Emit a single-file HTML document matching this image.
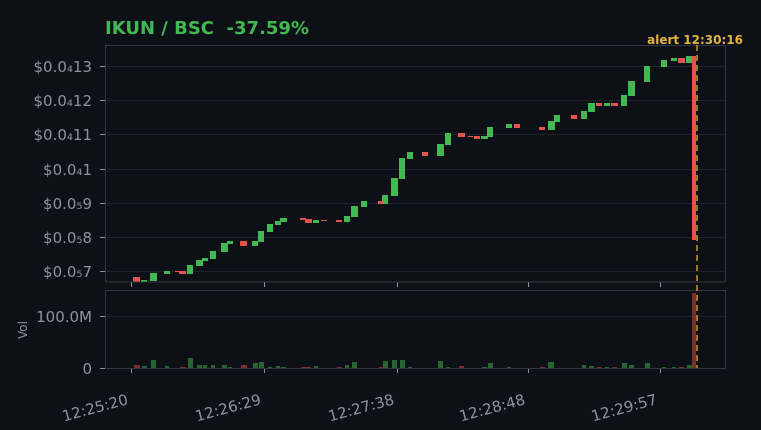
<!DOCTYPE html>
<html><head><meta charset="utf-8"><style>
html,body{margin:0;padding:0;background:#0d1117;}
svg{display:block;font-family:"DejaVu Sans","Liberation Sans",sans-serif;}
</style></head><body>
<svg width="761" height="430" viewBox="0 0 761 430" xmlns="http://www.w3.org/2000/svg">
<rect width="761" height="430" fill="#0d1117"/>
<text x="105" y="34" fill="#3fb950" font-size="18" font-weight="bold" style="white-space:pre">IKUN / BSC  -37.59%</text>
<text x="743" y="44" fill="#e3b341" font-size="12" font-weight="bold" text-anchor="end">alert 12:30:16</text>
<g stroke="#1e232b" stroke-width="1">
<line x1="105" x2="725" y1="66.5" y2="66.5"/><line x1="105" x2="725" y1="100.5" y2="100.5"/>
<line x1="105" x2="725" y1="134.5" y2="134.5"/><line x1="105" x2="725" y1="169.5" y2="169.5"/>
<line x1="105" x2="725" y1="203.5" y2="203.5"/><line x1="105" x2="725" y1="237.5" y2="237.5"/>
<line x1="105" x2="725" y1="271.5" y2="271.5"/><line x1="105" x2="725" y1="316.5" y2="316.5"/>
</g>
<g fill="#8b949e" font-size="15" text-anchor="end">
<text x="92" y="72">$0.0₄13</text><text x="92" y="106">$0.0₄12</text><text x="92" y="140">$0.0₄11</text>
<text x="92" y="175">$0.0₄1</text><text x="92" y="209">$0.0₅9</text><text x="92" y="243">$0.0₅8</text>
<text x="92" y="277">$0.0₅7</text>
<text x="92" y="322">100.0M</text><text x="92" y="374">0</text>
</g>
<text x="27" y="330" fill="#8b949e" font-size="12" transform="rotate(-90 27 330)" text-anchor="middle">Vol</text>
<g stroke="#8b949e" stroke-width="1">
<line x1="100" x2="105" y1="66.5" y2="66.5"/><line x1="100" x2="105" y1="100.5" y2="100.5"/><line x1="100" x2="105" y1="134.5" y2="134.5"/><line x1="100" x2="105" y1="169.5" y2="169.5"/><line x1="100" x2="105" y1="203.5" y2="203.5"/><line x1="100" x2="105" y1="237.5" y2="237.5"/><line x1="100" x2="105" y1="271.5" y2="271.5"/><line x1="100" x2="105" y1="316.5" y2="316.5"/><line x1="100" x2="105" y1="368.5" y2="368.5"/>
<line x1="131.5" x2="131.5" y1="282" y2="287"/><line x1="264.5" x2="264.5" y1="282" y2="287"/><line x1="397.5" x2="397.5" y1="282" y2="287"/><line x1="528.5" x2="528.5" y1="282" y2="287"/><line x1="660.5" x2="660.5" y1="282" y2="287"/>
<line x1="131.5" x2="131.5" y1="368" y2="373"/><line x1="264.5" x2="264.5" y1="368" y2="373"/><line x1="397.5" x2="397.5" y1="368" y2="373"/><line x1="528.5" x2="528.5" y1="368" y2="373"/><line x1="660.5" x2="660.5" y1="368" y2="373"/>
</g>
<g fill="#8b949e" font-size="15" text-anchor="end">
<text transform="translate(129 404) rotate(-15)">12:25:20</text>
<text transform="translate(262 404) rotate(-15)">12:26:29</text>
<text transform="translate(395 404) rotate(-15)">12:27:38</text>
<text transform="translate(526 404) rotate(-15)">12:28:48</text>
<text transform="translate(658 404) rotate(-15)">12:29:57</text>
</g>
<g fill="#3fb950">
<rect x="141" y="280" width="6" height="2"/><rect x="150" y="273" width="7" height="8"/><rect x="164" y="271" width="6" height="3"/><rect x="187" y="265" width="6" height="9"/><rect x="196" y="260" width="7" height="6"/><rect x="202" y="258" width="6" height="3"/><rect x="210" y="251" width="6" height="8"/><rect x="221" y="243" width="7" height="9"/><rect x="227" y="241" width="6" height="3"/><rect x="252" y="241" width="6" height="5"/><rect x="258" y="231" width="6" height="11"/><rect x="267" y="224" width="6" height="8"/><rect x="275" y="221" width="6" height="4"/><rect x="280" y="218" width="7" height="4"/><rect x="313" y="220" width="6" height="3"/><rect x="344" y="216" width="6" height="6"/><rect x="351" y="206" width="7" height="11"/><rect x="361" y="201" width="6" height="6"/><rect x="382" y="195" width="6" height="9"/><rect x="391" y="178" width="7" height="18"/><rect x="399" y="158" width="6" height="21"/><rect x="407" y="152" width="6" height="7"/><rect x="437" y="144" width="7" height="12"/><rect x="445" y="133" width="6" height="12"/><rect x="481" y="136" width="7" height="3"/><rect x="487" y="127" width="6" height="10"/><rect x="506" y="124" width="6" height="4"/><rect x="548" y="121" width="7" height="9"/><rect x="554" y="115" width="6" height="7"/><rect x="581" y="111" width="6" height="8"/><rect x="588" y="103" width="7" height="9"/><rect x="604" y="103" width="6" height="3"/><rect x="621" y="95" width="6" height="11"/><rect x="628" y="81" width="7" height="15"/><rect x="644" y="66" width="6" height="16"/><rect x="661" y="60" width="6" height="7"/><rect x="671" y="58" width="6" height="3"/><rect x="686" y="56" width="6" height="7"/>
</g>
<g fill="#e5534b">
<rect x="133" y="277" width="7" height="5"/><rect x="175" y="271" width="4" height="1"/><rect x="179" y="271" width="7" height="3"/><rect x="240" y="241" width="7" height="5"/><rect x="300" y="218" width="6" height="2"/><rect x="305" y="219" width="7" height="4"/><rect x="321" y="220" width="6" height="1"/><rect x="336" y="220" width="6" height="2"/><rect x="378" y="201" width="5" height="3"/><rect x="422" y="152" width="6" height="4"/><rect x="458" y="133" width="7" height="4"/><rect x="468" y="136" width="5" height="1"/><rect x="474" y="136" width="6" height="3"/><rect x="514" y="124" width="6" height="4"/><rect x="539" y="127" width="6" height="3"/><rect x="571" y="115" width="6" height="4"/><rect x="596" y="103" width="6" height="3"/><rect x="611" y="103" width="7" height="3"/><rect x="678" y="58" width="7" height="5"/><rect x="692" y="56" width="4" height="184"/>
</g>
<g fill="#26652f">
<rect x="142" y="366" width="5" height="2"/><rect x="151" y="360" width="5" height="8"/><rect x="165" y="366" width="4" height="2"/><rect x="188" y="358" width="5" height="10"/><rect x="197" y="365" width="5" height="3"/><rect x="203" y="365" width="4" height="3"/><rect x="211" y="365" width="4" height="3"/><rect x="222" y="365" width="5" height="3"/><rect x="228" y="367" width="4" height="1"/><rect x="253" y="363" width="5" height="5"/><rect x="259" y="362" width="5" height="6"/><rect x="268" y="367" width="4" height="1"/><rect x="276" y="366" width="4" height="2"/><rect x="281" y="367" width="5" height="1"/><rect x="314" y="366" width="4" height="2"/><rect x="345" y="365" width="4" height="3"/><rect x="352" y="362" width="5" height="6"/><rect x="383" y="361" width="5" height="7"/><rect x="392" y="360" width="5" height="8"/><rect x="400" y="360" width="5" height="8"/><rect x="408" y="367" width="4" height="1"/><rect x="438" y="361" width="5" height="7"/><rect x="446" y="367" width="4" height="1"/><rect x="482" y="367" width="5" height="1"/><rect x="488" y="363" width="5" height="5"/><rect x="507" y="367" width="4" height="1"/><rect x="548" y="362" width="6" height="6"/><rect x="582" y="365" width="4" height="3"/><rect x="589" y="366" width="5" height="2"/><rect x="605" y="367" width="4" height="1"/><rect x="622" y="363" width="5" height="5"/><rect x="629" y="365" width="5" height="3"/><rect x="645" y="363" width="5" height="5"/><rect x="662" y="367" width="4" height="1"/><rect x="672" y="367" width="4" height="1"/><rect x="687" y="365" width="5" height="3"/>
</g>
<g fill="#7a2e2b">
<rect x="134" y="365" width="6" height="3"/><rect x="180" y="367" width="6" height="1"/><rect x="241" y="365" width="6" height="3"/><rect x="301" y="367" width="5" height="1"/><rect x="306" y="367" width="5" height="1"/><rect x="337" y="367" width="5" height="1"/><rect x="379" y="367" width="4" height="1"/><rect x="459" y="366" width="5" height="2"/><rect x="540" y="367" width="5" height="1"/><rect x="597" y="367" width="5" height="1"/><rect x="612" y="367" width="5" height="1"/><rect x="679" y="367" width="5" height="1"/><rect x="692" y="293" width="4" height="75"/>
</g>
<rect x="105.5" y="45.5" width="620" height="236.5" fill="none" stroke="#30363d"/>
<rect x="105.5" y="290.5" width="620" height="78" fill="none" stroke="#30363d"/>
<line x1="697" x2="697" y1="45" y2="368" stroke="#d29922" stroke-width="1.5" stroke-dasharray="6,4"/>
</svg>
</body></html>
